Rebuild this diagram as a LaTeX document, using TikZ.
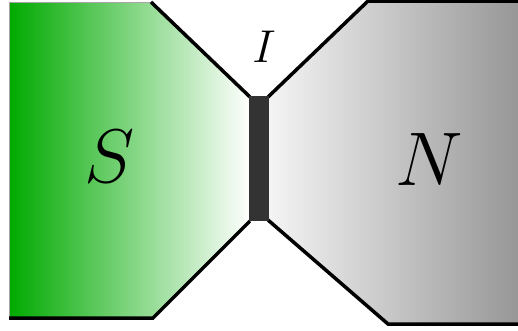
\documentclass[tikz,border=0pt]{standalone}
\usepackage{fix-cm}
\definecolor{sgreen}{RGB}{0,170,0}
\definecolor{ngray}{RGB}{150,150,150}
\definecolor{bardark}{RGB}{51,51,51}
\begin{document}
\begin{tikzpicture}[x=1pt,y=-1pt,
  edge/.style={line width=3.5pt,line join=miter},
  thinedge/.style={line width=1pt,gray!70},
  biglabel/.style={font=\fontsize{76}{76}\selectfont,inner sep=0pt},
  smalllabel/.style={font=\fontsize{46}{46}\selectfont,inner sep=0pt}]
\useasboundingbox (0,0) rectangle (518,330);
% superconductor S
\shade[left color=sgreen,right color=white] (9,2) -- (151,2) -- (250,97) -- (250,221) -- (153,318) -- (9,318) -- cycle;
\draw[thinedge] (151,2) -- (9,2) -- (9,318);
\draw[edge] (151,2) -- (250,97);
\draw[edge] (250,221) -- (153,318) -- (9,318);
% normal metal N
\shade[left color=white!96!black,right color=ngray] (268,97) -- (368,1) -- (520,1) -- (520,324) -- (388,324) -- (268,220) -- cycle;
\draw[edge] (268,97) -- (368,1) -- (520,1);
\draw[edge] (268,220) -- (388,324) -- (520,324);
% insulator barrier
\fill[bardark] (249,96) rectangle (269,221);
% labels
\node[biglabel] (S) at (110,157) {$S$};
\node[biglabel] (N) at (429,160) {$N$};
\node[smalllabel] (I) at (264,47) {$I$};
\end{tikzpicture}
\end{document}
